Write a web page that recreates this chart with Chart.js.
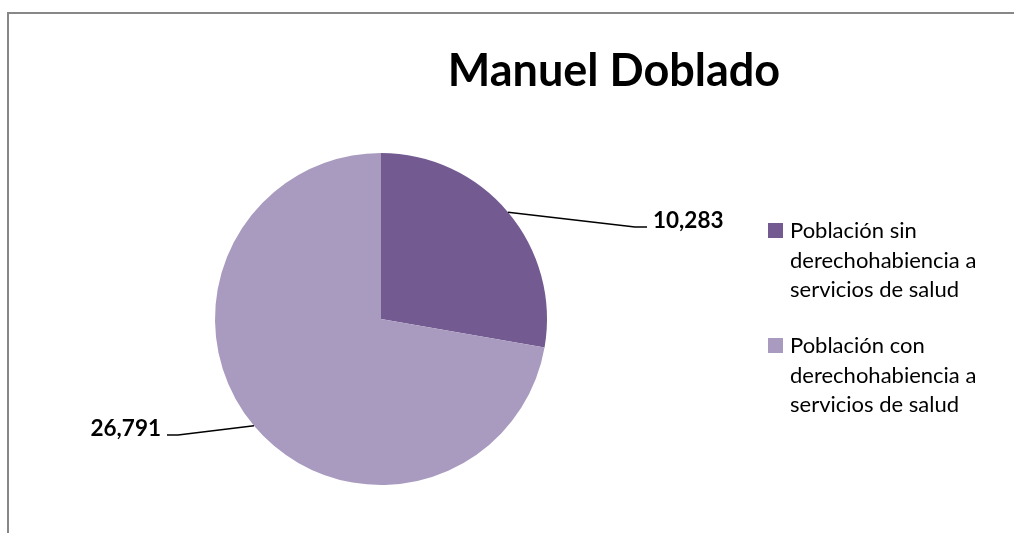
<!DOCTYPE html>
<html>
<head>
<meta charset="utf-8">
<script src="https://cdn.jsdelivr.net/npm/chart.js@4.4.0/dist/chart.umd.min.js"></script>
<style>
  html, body { margin: 0; padding: 0; background: #fff; overflow: hidden; }
  #wrap { position: relative; width: 1014px; height: 533px; overflow: hidden; }
  #frame { position: absolute; left: 7px; top: 12px; width: 1100px; height: 600px;
           border-top: 2px solid #878787; border-left: 2px solid #878787; }
  canvas { position: absolute; left: 0; top: 0; }
</style>
</head>
<body>
<div id="wrap">
  <div id="frame"></div>
  <canvas id="chart" width="1014" height="533"></canvas>
</div>
<script>
const TITLE = "Manuel Doblado";
const LABELS = [
  ["Población sin", "derechohabiencia a", "servicios de salud"],
  ["Población con", "derechohabiencia a", "servicios de salud"],
];
const VALUES = [10283, 26791];
const COLORS = ["#735b92", "#a99bbf"];

// where the leader lines bend, relative to the pie center
const LEADER = [
  { dx: 254, dy: -92, tail: 12 },
  { dx: -203, dy: 116, tail: -11 },
];

const fmt = (v) => v.toLocaleString("en-US");

const extras = {
  id: "extras",
  afterDraw(chart) {
    const ctx = chart.ctx;
    const meta = chart.getDatasetMeta(0);
    ctx.save();
    ctx.fillStyle = "#000";

    // title
    ctx.font = "bold 45px Lato";
    ctx.textAlign = "center";
    ctx.textBaseline = "alphabetic";
    ctx.fillText(TITLE, 614, 86);

    // data labels with leader lines
    ctx.font = "bold 22.5px Lato";
    ctx.strokeStyle = "#000";
    ctx.lineWidth = 1.5;
    meta.data.forEach((arc, i) => {
      const p = arc.getProps(["x", "y", "startAngle", "endAngle", "outerRadius"], true);
      const mid = (p.startAngle + p.endAngle) / 2;
      const sx = p.x + Math.cos(mid) * p.outerRadius;
      const sy = p.y + Math.sin(mid) * p.outerRadius;
      const o = LEADER[i];
      const ex = p.x + o.dx, ey = p.y + o.dy;
      ctx.beginPath();
      ctx.moveTo(sx, sy);
      ctx.lineTo(ex, ey);
      ctx.lineTo(ex + o.tail, ey);
      ctx.stroke();
      ctx.textAlign = o.tail > 0 ? "left" : "right";
      ctx.fillText(fmt(VALUES[i]), ex + o.tail + (o.tail > 0 ? 6 : -6), ey + 1);
    });

    // legend
    ctx.font = "22px Lato";
    ctx.textAlign = "left";
    let y = 223;
    LABELS.forEach((lines, i) => {
      ctx.fillStyle = COLORS[i];
      ctx.fillRect(768, y, 15, 15);
      ctx.fillStyle = "#000";
      lines.forEach((t, j) => ctx.fillText(t, 790, y + 15 + j * 29.5));
      y += 115;
    });
    ctx.restore();
  },
};

new Chart(document.getElementById("chart"), {
  type: "pie",
  data: {
    labels: LABELS.map((l) => l.join(" ")),
    datasets: [{ data: VALUES, backgroundColor: COLORS, borderWidth: 0 }],
  },
  options: {
    responsive: false,
    animation: false,
    devicePixelRatio: 1,
    layout: { padding: { left: 215, right: 467, top: 153, bottom: 48 } },
    plugins: { legend: { display: false }, title: { display: false }, tooltip: { enabled: false } },
  },
  plugins: [extras],
});
</script>
</body>
</html>
